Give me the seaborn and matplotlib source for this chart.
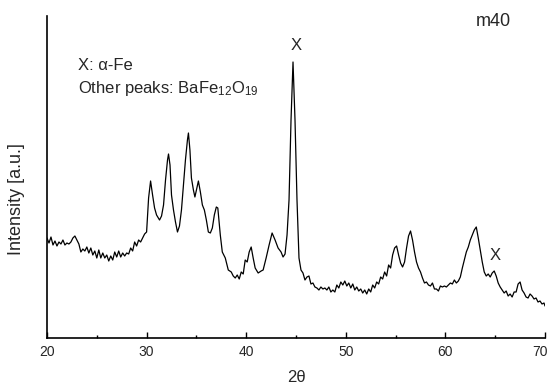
import matplotlib
matplotlib.use("Agg")
import matplotlib.pyplot as plt
import matplotlib.transforms as mtransforms
import seaborn as sns
import pandas as pd
from matplotlib.ticker import MultipleLocator

two_theta = [
    20.0, 20.2, 20.4, 20.6, 20.8, 21.0, 21.2, 21.4, 21.6, 21.8, 22.0, 22.2, 22.4, 22.6, 22.8,
    23.0, 23.2, 23.4, 23.6, 23.8, 24.0, 24.2, 24.4, 24.6, 24.8, 25.0, 25.2, 25.4, 25.6, 25.8,
    26.0, 26.2, 26.4, 26.6, 26.8, 27.0, 27.2, 27.4, 27.6, 27.8, 28.0, 28.2, 28.4, 28.6, 28.8,
    29.0, 29.2, 29.4, 29.6, 29.8, 30.0, 30.1, 30.2, 30.4, 30.6, 30.8, 31.0, 31.3, 31.5, 31.7,
    31.9, 32.1, 32.2, 32.35, 32.5, 32.7, 32.9, 33.1, 33.3, 33.5, 33.7, 33.9, 34.1, 34.2, 34.35,
    34.5, 34.7, 34.85, 35.0, 35.2, 35.4, 35.6, 35.8, 36.0, 36.2, 36.4, 36.6, 36.8, 37.0, 37.15,
    37.4, 37.6, 37.9, 38.2, 38.5, 38.7, 38.9, 39.1, 39.3, 39.5, 39.7, 39.9, 40.1, 40.3, 40.5,
    40.7, 40.9, 41.2, 41.5, 41.7, 42.0, 42.3, 42.6, 42.9, 43.2, 43.5, 43.7, 43.9, 44.1, 44.3,
    44.5, 44.7, 44.9, 45.1, 45.3, 45.5, 45.7, 45.9, 46.1, 46.3, 46.5, 46.7, 46.9, 47.1, 47.3,
    47.5, 47.7, 47.9, 48.1, 48.3, 48.5, 48.7, 48.9, 49.1, 49.3, 49.5, 49.7, 49.9, 50.1, 50.3,
    50.5, 50.7, 50.9, 51.1, 51.3, 51.5, 51.7, 51.9, 52.1, 52.3, 52.5, 52.7, 52.9, 53.1, 53.3,
    53.5, 53.7, 53.9, 54.1, 54.3, 54.5, 54.7, 54.9, 55.1, 55.3, 55.5, 55.7, 55.9, 56.1, 56.3,
    56.5, 56.7, 56.9, 57.1, 57.3, 57.5, 57.7, 57.9, 58.1, 58.3, 58.5, 58.7, 58.9, 59.1, 59.3,
    59.5, 59.7, 59.9, 60.1, 60.3, 60.5, 60.7, 60.9, 61.1, 61.3, 61.5, 61.7, 61.9, 62.1, 62.3,
    62.5, 62.7, 62.9, 63.1, 63.3, 63.5, 63.7, 63.9, 64.1, 64.3, 64.5, 64.7, 64.9, 65.1, 65.3,
    65.5, 65.7, 65.9, 66.1, 66.3, 66.5, 66.7, 66.9, 67.1, 67.3, 67.5, 67.7, 67.9, 68.1, 68.3,
    68.5, 68.7, 68.9, 69.1, 69.3, 69.5, 69.7, 69.9, 70.0,
]

intensity = [
    100, 95, 101, 93, 97, 92, 96, 94, 98, 93, 95, 94, 96, 100, 102,
    98, 94, 86, 89, 87, 91, 85, 90, 83, 87, 80, 88, 80, 85, 80,
    83, 77, 82, 78, 86, 81, 87, 81, 85, 82, 85, 84, 90, 87, 96,
    92, 98, 96, 100, 104, 106, 123, 140, 157, 143, 130, 123, 118, 122, 133,
    158, 178, 184, 173, 143, 128, 116, 106, 112, 128, 153, 178, 198, 205, 188,
    160, 148, 141, 148, 157, 146, 133, 128, 118, 106, 105, 110, 123, 131, 130,
    103, 86, 80, 68, 66, 62, 60, 63, 59, 66, 64, 78, 76, 86, 91,
    80, 70, 65, 67, 68, 80, 93, 105, 98, 90, 86, 81, 84, 103, 138,
    218, 276, 218, 138, 80, 68, 65, 58, 61, 62, 54, 55, 51, 50, 48,
    51, 49, 50, 48, 51, 46, 48, 46, 53, 50, 56, 53, 57, 52, 55,
    50, 54, 48, 51, 47, 49, 45, 48, 44, 49, 46, 53, 50, 56, 54,
    61, 59, 66, 62, 73, 70, 83, 90, 92, 83, 75, 71, 76, 90, 102,
    107, 98, 86, 76, 70, 66, 60, 55, 56, 53, 52, 55, 49, 49, 47,
    52, 51, 52, 51, 53, 55, 54, 58, 55, 57, 61, 70, 78, 86, 91,
    98, 103, 108, 111, 100, 88, 76, 66, 62, 64, 61, 65, 67, 62, 55,
    51, 48, 45, 47, 42, 44, 41, 46, 46, 54, 56, 48, 45, 41, 40,
    44, 42, 39, 40, 36, 37, 34, 35, 32,
]

x_ticks = [20, 30, 40, 50, 60, 70]
x_tick_labels = ["20", "30", "40", "50", "60", "70"]

df = pd.DataFrame({"two_theta": two_theta, "intensity": intensity})

sns.set_style("ticks")
plt.rcParams["font.family"] = ["Liberation Sans", "DejaVu Sans"]
plt.rcParams["mathtext.fontset"] = "custom"
plt.rcParams["mathtext.rm"] = "Liberation Sans"
plt.rcParams["mathtext.it"] = "Liberation Sans"

W, H = 551, 386
fig = plt.figure(figsize=(W / 100, H / 100), dpi=100)
ax = fig.add_axes([47 / W, (H - 338) / H, (545 - 47) / W, (338 - 16) / H])

sns.lineplot(data=df, x="two_theta", y="intensity", ax=ax, color="black", linewidth=0.9)

ax.set_xlim(20, 70)
ax.set_ylim(0, 322)
ax.set_xticks(x_ticks, x_tick_labels)
ax.xaxis.set_minor_locator(MultipleLocator(5))
ax.tick_params(axis="x", which="major", direction="in", length=4, width=1, labelsize=10, pad=5, color="black")
ax.tick_params(axis="x", which="minor", direction="in", length=2.5, width=1, color="black")
ax.set_yticks([])
for s in ["top", "right"]:
    ax.spines[s].set_visible(False)
for s in ["left", "bottom"]:
    ax.spines[s].set_linewidth(1.2)
    ax.spines[s].set_color("black")

# keep the last tick label ("70") inside the canvas
for lab in ax.get_xticklabels():
    if lab.get_text() == "70":
        lab.set_transform(lab.get_transform() + mtransforms.ScaledTranslation(-5 / 100, 0, fig.dpi_scale_trans))

ax.set_xlabel("2θ", fontsize=12, labelpad=8)
ax.set_ylabel("Intensity [a.u.]", fontsize=13)
ax.yaxis.set_label_coords(-0.045, 0.43)

ax.text(23.1, 273, "X: α-Fe", fontsize=12, ha="left", va="center")
ax.text(23.1, 250, "Other peaks: BaFe$_{12}$O$_{19}$", fontsize=12, ha="left", va="center")
ax.text(64.8, 317, "m40", fontsize=13, ha="center", va="center")
ax.text(45.0, 293, "X", fontsize=12, ha="center", va="center")
ax.text(65.0, 83, "X", fontsize=12, ha="center", va="center")

fig.savefig("out.png", dpi=100)
